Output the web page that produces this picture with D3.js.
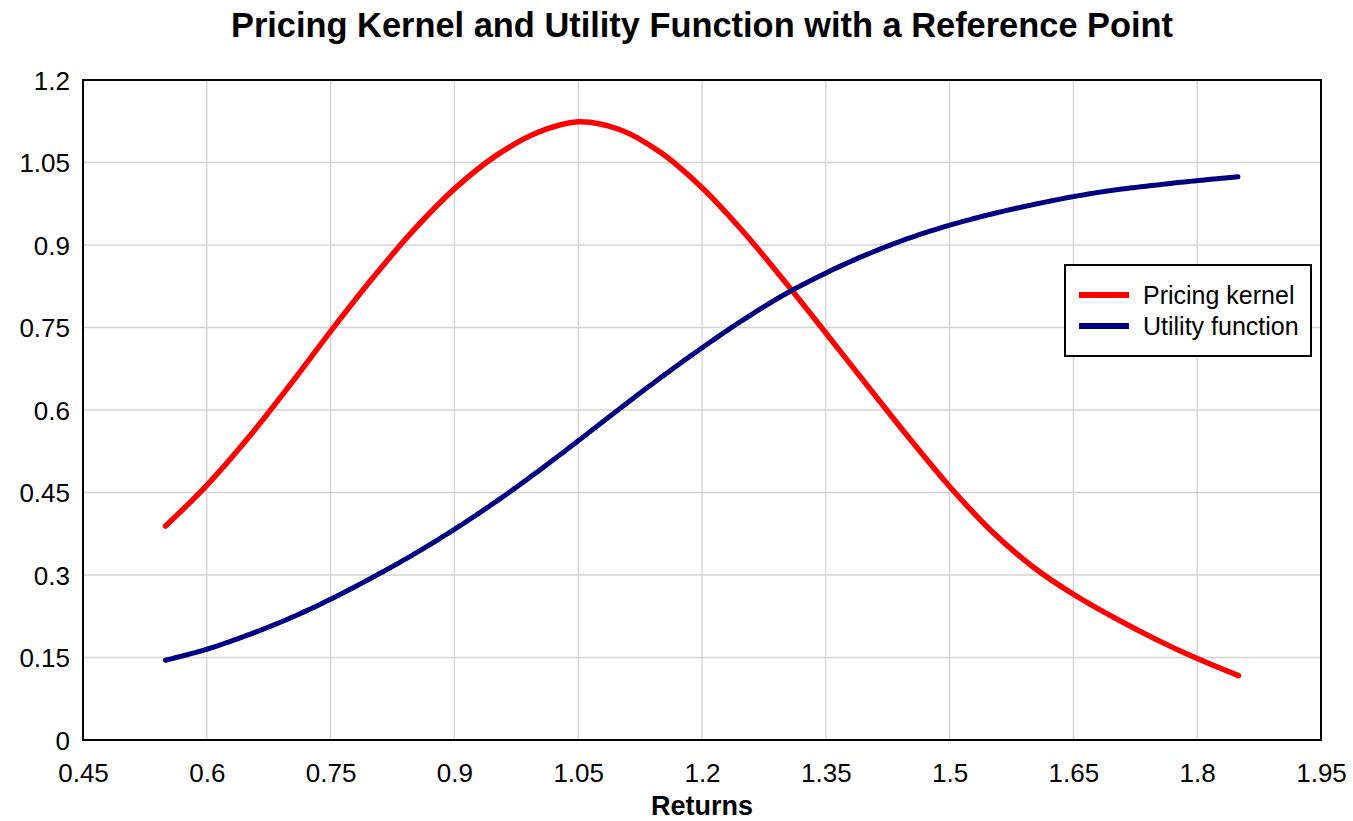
<!DOCTYPE html>
<html>
<head>
<meta charset="utf-8">
<script src="https://cdn.jsdelivr.net/npm/d3@7"></script>
<style>
  html, body { margin: 0; padding: 0; background: #fff; }
  svg { display: block; font-family: "Liberation Sans", Arial, sans-serif; }
</style>
</head>
<body>
<svg id="chart" width="1353" height="821"></svg>
<script>
// Gross returns on the horizontal axis
const returns = [0.55, 0.60, 0.65, 0.70, 0.75, 0.80, 0.85, 0.90, 0.95, 1.00,
                 1.05, 1.10, 1.15, 1.20, 1.25, 1.30, 1.35, 1.40, 1.45, 1.50,
                 1.55, 1.60, 1.65, 1.70, 1.75, 1.80, 1.85];

// Pricing kernel evaluated at each return
const pricingKernel = [0.389, 0.463, 0.549, 0.644, 0.743, 0.838, 0.926, 1.002, 1.062, 1.104,
                       1.124, 1.110, 1.068, 1.004, 0.924, 0.834, 0.740, 0.645, 0.551, 0.461,
                       0.381, 0.316, 0.265, 0.222, 0.183, 0.148, 0.117];

// Utility function with a reference point
const utilityFunction = [0.145, 0.165, 0.191, 0.221, 0.256, 0.295, 0.337, 0.383, 0.433, 0.487,
                         0.544, 0.602, 0.659, 0.713, 0.764, 0.810, 0.849, 0.883, 0.912, 0.936,
                         0.956, 0.973, 0.988, 1.000, 1.009, 1.017, 1.024];

const xTicks = [0.45, 0.6, 0.75, 0.9, 1.05, 1.2, 1.35, 1.5, 1.65, 1.8, 1.95];
const yTicks = [0, 0.15, 0.3, 0.45, 0.6, 0.75, 0.9, 1.05, 1.2];

const seriesNames = ["Pricing kernel", "Utility function"];
const seriesColors = ["#ff0000", "#000080"];

const svg = d3.select("#chart");
const margin = { left: 83, right: 1321, top: 80, bottom: 740 };

const x = d3.scaleLinear().domain([0.45, 1.95]).range([margin.left, margin.right]);
const y = d3.scaleLinear().domain([0, 1.2]).range([margin.bottom, margin.top]);

// Title
svg.append("text")
  .attr("x", (margin.left + margin.right) / 2)
  .attr("y", 37)
  .attr("text-anchor", "middle")
  .attr("font-size", 34.4)
  .attr("font-weight", "bold")
  .attr("fill", "#000")
  .text("Pricing Kernel and Utility Function with a Reference Point");

// Grid lines
const grid = svg.append("g").attr("stroke", "#d3d3d3").attr("stroke-width", 1.3);
grid.selectAll("line.v").data(xTicks.slice(1, -1)).join("line")
  .attr("x1", d => x(d)).attr("x2", d => x(d))
  .attr("y1", margin.top).attr("y2", margin.bottom);
grid.selectAll("line.h").data(yTicks.slice(1, -1)).join("line")
  .attr("x1", margin.left).attr("x2", margin.right)
  .attr("y1", d => y(d)).attr("y2", d => y(d));

// Axes (labels only; the frame is drawn separately)
const xAxis = d3.axisBottom(x).tickValues(xTicks).tickSize(0).tickPadding(0)
  .tickFormat(d => d3.format("")(+d.toFixed(2)));
const gx = svg.append("g").attr("transform", `translate(0,${margin.bottom})`).call(xAxis);
gx.select(".domain").remove();
gx.selectAll("text").attr("font-size", 26).attr("font-family", "Liberation Sans, Arial, sans-serif")
  .attr("fill", "#000").attr("dy", null).attr("y", 42);

const yAxis = d3.axisLeft(y).tickValues(yTicks).tickSize(0).tickPadding(13)
  .tickFormat(d => d3.format("")(+d.toFixed(2)));
const gy = svg.append("g").attr("transform", `translate(${margin.left},0)`).call(yAxis);
gy.select(".domain").remove();
gy.selectAll("text").attr("font-size", 26).attr("font-family", "Liberation Sans, Arial, sans-serif")
  .attr("fill", "#000").attr("dy", "0.35em");

// Axis title
svg.append("text")
  .attr("x", (margin.left + margin.right) / 2)
  .attr("y", 815)
  .attr("text-anchor", "middle")
  .attr("font-size", 27)
  .attr("font-weight", "bold")
  .attr("fill", "#000")
  .text("Returns");

// Curves
const line = d3.line().x(d => x(d[0])).y(d => y(d[1])).curve(d3.curveCatmullRom.alpha(0.5));

svg.append("path")
  .datum(d3.zip(returns, pricingKernel))
  .attr("d", line)
  .attr("fill", "none")
  .attr("stroke", seriesColors[0])
  .attr("stroke-width", 5.5)
  .attr("stroke-linecap", "round")
  .attr("stroke-linejoin", "round");

svg.append("path")
  .datum(d3.zip(returns, utilityFunction))
  .attr("d", line)
  .attr("fill", "none")
  .attr("stroke", seriesColors[1])
  .attr("stroke-width", 5)
  .attr("stroke-linecap", "round")
  .attr("stroke-linejoin", "round")
  .attr("stroke-dasharray", "7 1.2");

// Plot frame
svg.append("rect")
  .attr("x", margin.left).attr("y", margin.top)
  .attr("width", margin.right - margin.left)
  .attr("height", margin.bottom - margin.top)
  .attr("fill", "none")
  .attr("stroke", "#000")
  .attr("stroke-width", 2);

// Legend
const legend = svg.append("g").attr("transform", "translate(1065,265)");
legend.append("rect")
  .attr("width", 246).attr("height", 91)
  .attr("fill", "#fff").attr("stroke", "#000").attr("stroke-width", 2);
seriesNames.forEach((name, i) => {
  const ly = 30 + i * 31;
  legend.append("line")
    .attr("x1", 14).attr("x2", 64).attr("y1", ly).attr("y2", ly)
    .attr("stroke", seriesColors[i]).attr("stroke-width", 6);
  legend.append("text")
    .attr("x", 78).attr("y", ly + 9)
    .attr("font-size", 25).attr("fill", "#000")
    .text(name);
});
</script>
</body>
</html>
